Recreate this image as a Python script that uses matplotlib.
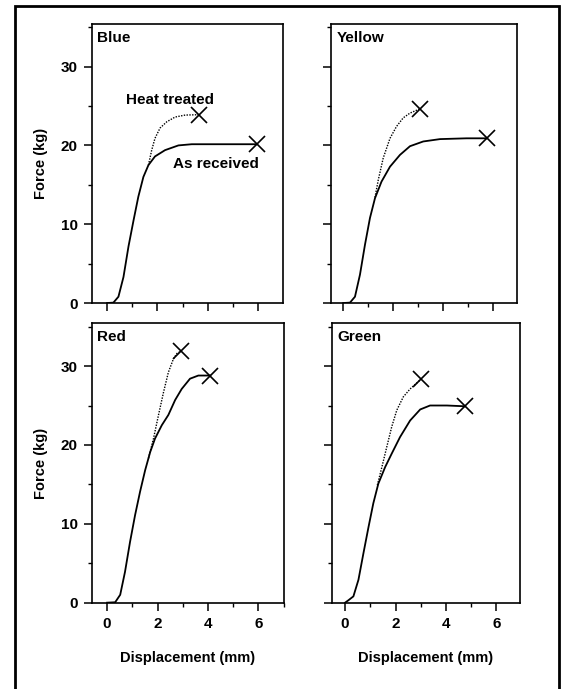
import matplotlib
matplotlib.use('Agg')
import matplotlib.pyplot as plt
from matplotlib.patches import Rectangle
from matplotlib.ticker import MultipleLocator

plt.rcParams['font.family'] = ['Liberation Sans', 'DejaVu Sans']
plt.rcParams['font.weight'] = 'bold'
plt.rcParams['axes.labelweight'] = 'bold'

# data: displacement (mm) vs force (kg)
blue_recv_x = [0, 0.25, 0.45, 0.65, 0.85, 1.05, 1.24, 1.44, 1.64, 1.9, 2.3, 2.83, 3.36, 4.55, 5.94]
blue_recv_y = [0, 0.05, 0.8, 3.3, 7.2, 10.5, 13.5, 16.0, 17.5, 18.6, 19.4, 20.0, 20.15, 20.15, 20.15]
blue_heat_x = [1.64, 1.77, 1.9, 2.1, 2.37, 2.7, 3.1, 3.66]
blue_heat_y = [17.5, 19.4, 20.9, 22.2, 23.0, 23.6, 23.85, 23.9]

yellow_recv_x = [0, 0.27, 0.47, 0.67, 0.87, 1.07, 1.27, 1.53, 1.87, 2.27, 2.67, 3.2, 3.87, 4.93, 5.73]
yellow_recv_y = [0, 0.05, 0.8, 3.6, 7.4, 10.8, 13.3, 15.4, 17.3, 18.8, 19.9, 20.5, 20.8, 20.9, 20.9]
yellow_heat_x = [1.27, 1.4, 1.6, 1.87, 2.13, 2.4, 2.67, 3.07]
yellow_heat_y = [13.4, 15.6, 18.4, 20.9, 22.4, 23.5, 24.1, 24.65]

red_recv_x = [0, 0.32, 0.52, 0.71, 0.91, 1.11, 1.31, 1.51, 1.71, 1.9, 2.17, 2.43, 2.7, 2.96, 3.29, 3.62, 4.09]
red_recv_y = [0, 0.05, 1.0, 3.9, 7.7, 11.1, 14.1, 16.8, 19.1, 20.8, 22.5, 23.8, 25.7, 27.1, 28.4, 28.8, 28.8]
red_heat_x = [1.64, 1.84, 2.04, 2.24, 2.43, 2.63, 2.77, 2.94]
red_heat_y = [18.3, 20.8, 23.8, 26.7, 29.2, 30.9, 31.6, 31.9]

green_recv_x = [0, 0.13, 0.33, 0.53, 0.73, 0.93, 1.12, 1.32, 1.59, 1.85, 2.18, 2.58, 2.98, 3.37, 4.04, 4.76]
green_recv_y = [0, 0.3, 0.8, 2.9, 6.3, 9.6, 12.6, 15.1, 17.2, 18.9, 21.0, 23.1, 24.5, 25.0, 25.0, 24.9]
green_heat_x = [1.28, 1.46, 1.65, 1.85, 2.05, 2.31, 2.58, 3.0]
green_heat_y = [14.9, 17.2, 19.7, 22.3, 24.4, 26.1, 27.1, 28.3]

panels = [
    ('Blue', blue_recv_x, blue_recv_y, blue_heat_x, blue_heat_y),
    ('Yellow', yellow_recv_x, yellow_recv_y, yellow_heat_x, yellow_heat_y),
    ('Red', red_recv_x, red_recv_y, red_heat_x, red_heat_y),
    ('Green', green_recv_x, green_recv_y, green_heat_x, green_heat_y),
]

# axes boxes in figure fractions, and x limits for each panel
boxes = [
    [0.1635, 0.5602, 0.3405, 0.4049],
    [0.5895, 0.5602, 0.3326, 0.4049],
    [0.1635, 0.1253, 0.3428, 0.4052],
    [0.5913, 0.1253, 0.3357, 0.4052],
]
xlims = [(-0.61, 6.97), (-0.5, 6.96), (-0.61, 7.02), (-0.53, 6.94)]

fig = plt.figure(figsize=(5.61, 6.89), dpi=100)

# outer frame (open at the bottom, as in the scan)
fig.patches.append(Rectangle((15 / 561, -0.05), 544 / 561, 1.05 - 5.5 / 689,
                             transform=fig.transFigure, fill=False,
                             edgecolor='black', linewidth=2))

for i, (name, rx, ry, hx, hy) in enumerate(panels):
    ax = fig.add_axes(boxes[i])
    ax.plot(rx, ry, color='black', linewidth=1.3, solid_joinstyle='round')
    ax.plot(hx, hy, color='black', linewidth=1.0, linestyle=(0, (1, 1)))
    ax.plot(rx[-1], ry[-1], marker='x', color='black', markersize=11, markeredgewidth=1.2)
    ax.plot(hx[-1], hy[-1], marker='x', color='black', markersize=11, markeredgewidth=1.2)

    ax.set_xlim(*xlims[i])
    ax.set_ylim(0, 35.4)
    ax.xaxis.set_major_locator(MultipleLocator(2))
    ax.xaxis.set_minor_locator(MultipleLocator(1))
    ax.yaxis.set_major_locator(MultipleLocator(10))
    ax.yaxis.set_minor_locator(MultipleLocator(5))
    ax.tick_params(which='major', direction='out', length=6, width=1.1, labelsize=11, pad=4)
    ax.tick_params(which='minor', direction='out', length=3, width=1.0)
    for sp in ax.spines.values():
        sp.set_linewidth(1.2)

    ax.text(0.03, 0.975, name, transform=ax.transAxes, ha='left', va='top', fontsize=11)

    if i in (0, 2):
        ax.set_ylabel('Force (kg)', fontsize=10.5, labelpad=9)
    else:
        ax.tick_params(labelleft=False)
    if i in (2, 3):
        ax.set_xlabel('Displacement (mm)', fontsize=10.5, labelpad=15)
    else:
        ax.tick_params(labelbottom=False)

    if name == 'Blue':
        ax.text(2.51, 25.7, 'Heat treated', ha='center', va='center', fontsize=11)
        ax.text(4.33, 17.7, 'As received', ha='center', va='center', fontsize=11)

plt.savefig('out.png', dpi=100)
